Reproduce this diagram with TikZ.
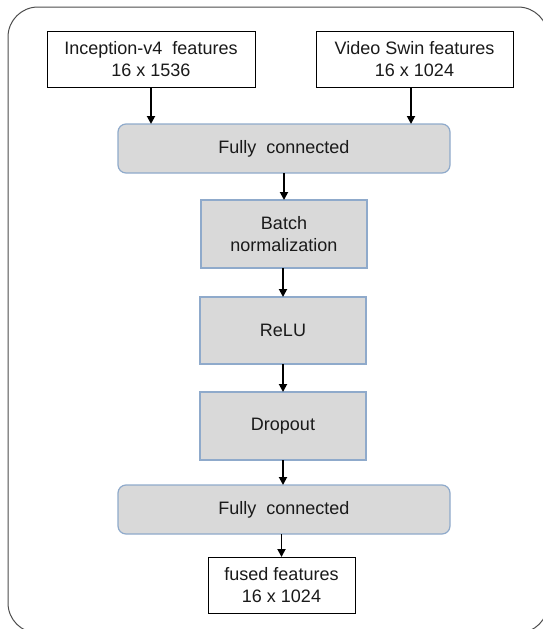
\documentclass[tikz,border=0pt]{standalone}
\usepackage{fontspec}
\setmainfont{Liberation Sans}
\usetikzlibrary{arrows.meta}
\definecolor{boxfill}{HTML}{D9D9D9}
\definecolor{boxline}{HTML}{8FAACB}
\definecolor{txt}{HTML}{1A1A1A}
\begin{document}
\begin{tikzpicture}[x=1pt,y=-1pt,
  every node/.style={font=\fontsize{18}{22}\selectfont, text=txt, align=center, inner sep=0pt, outer sep=0pt},
  whitebox/.style={draw=black, line width=0.9pt, fill=white},
  graybox/.style={draw=boxline, line width=1.2pt, fill=boxfill},
  fcbox/.style={graybox, rounded corners=8pt},
  arr/.style={draw=black, line width=1.8pt, -{Triangle[length=8pt,width=8pt]}}]
\useasboundingbox (0,0) rectangle (543,629);
\begin{scope}
\clip (0,0) rectangle (543,629);
\draw[draw=black!70, line width=1pt, rounded corners=30pt] (8,7) rectangle (548,633);
\end{scope}
% boxes
\node[whitebox, minimum width=208pt, minimum height=56pt] (inc) at (151,59) {Inception-v4\ \ features\\16 x 1536};
\node[whitebox, minimum width=197pt, minimum height=56pt] (vsw) at (414.5,59) {Video Swin features\\16 x 1024};
\node[fcbox, minimum width=332pt, minimum height=49pt] (fc1) at (284,148.5) {Fully\ \ connected};
\node[graybox, minimum width=166pt, minimum height=68pt] (bn) at (284,234) {Batch\\normalization};
\node[graybox, minimum width=166pt, minimum height=67pt] (relu) at (283,330.5) {ReLU};
\node[graybox, minimum width=166pt, minimum height=68pt] (drop) at (283,426) {Dropout};
\node[fcbox, minimum width=332pt, minimum height=49pt] (fc2) at (284,509.5) {Fully\ \ connected};
\node[whitebox, minimum width=147pt, minimum height=56pt] (fus) at (281.5,585) {fused features\\16 x 1024};
% connectors
\draw[arr] (inc.south) -- (inc.south |- fc1.north);
\draw[arr] ([xshift=-3.5pt]vsw.south) -- ([xshift=-3.5pt]vsw.south |- fc1.north);
\draw[arr] (fc1.south -| bn.north) -- (bn.north);
\draw[arr] (bn.south -| relu.north) -- (relu.north);
\draw[arr] (relu.south) -- (drop.north);
\draw[arr] (drop.south) -- (drop.south |- fc2.north);
\draw[arr] (fc2.south -| fus.north) -- (fus.north);
\end{tikzpicture}
\end{document}
